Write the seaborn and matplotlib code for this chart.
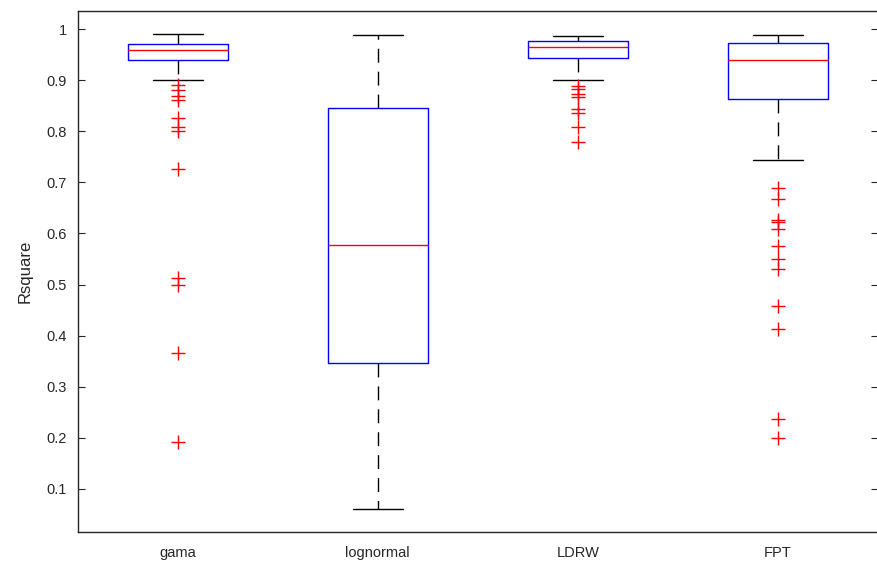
import numpy as np
import pandas as pd
import matplotlib
matplotlib.use("Agg")
import matplotlib.pyplot as plt
import seaborn as sns

# ---- data ----
categories = ["gama", "lognormal", "LDRW", "FPT"]
whisker_low = [0.901, 0.060, 0.901, 0.744]
q1 = [0.940, 0.346, 0.944, 0.863]
median = [0.960, 0.577, 0.966, 0.940]
q3 = [0.971, 0.846, 0.977, 0.974]
whisker_high = [0.991, 0.989, 0.987, 0.989]
outliers_gama = [0.890, 0.881, 0.869, 0.862, 0.827, 0.809, 0.801, 0.726,
                 0.513, 0.499, 0.365, 0.191]
outliers_lognormal = []
outliers_ldrw = [0.889, 0.883, 0.873, 0.868, 0.843, 0.836, 0.809, 0.779]
outliers_fpt = [0.689, 0.667, 0.626, 0.622, 0.608, 0.575, 0.550, 0.530,
                0.457, 0.413, 0.237, 0.200]
outliers = [outliers_gama, outliers_lognormal, outliers_ldrw, outliers_fpt]
yticks = [0.1, 0.2, 0.3, 0.4, 0.5, 0.6, 0.7, 0.8, 0.9, 1.0]
ytick_labels = ["0.1", "0.2", "0.3", "0.4", "0.5", "0.6", "0.7", "0.8", "0.9", "1"]

# Build samples whose five-number summary equals the values read above
rows = []
for i, cat in enumerate(categories):
    outs = sorted(outliers[i])
    m = len(outs)
    k = m + 1
    sample = (outs + [whisker_low[i]] + [q1[i]] * (2 * k - 1 - m)
              + [median[i]] * k + [q3[i]] * k + [whisker_high[i]])
    for v in sample:
        rows.append({"model": cat, "Rsquare": v})
df = pd.DataFrame(rows)

sns.set_theme(style="white")
plt.rcParams["font.family"] = ["Liberation Sans", "DejaVu Sans"]

fig = plt.figure(figsize=(8.77, 5.69), dpi=100)
ax = fig.add_axes([0.0886, 0.0656, 0.9125, 0.9156])

sns.boxplot(
    data=df, x="model", y="Rsquare", order=categories, ax=ax,
    width=0.5, fill=False, whis=1.5,
    boxprops=dict(color="blue", linewidth=1.0),
    medianprops=dict(color="red", linewidth=1.0),
    whiskerprops=dict(color="black", linewidth=1.0, linestyle=(0, (10, 6.5))),
    capprops=dict(color="black", linewidth=1.0),
    flierprops=dict(marker="+", markeredgecolor="red", markerfacecolor="red",
                    markersize=9.5, markeredgewidth=1.0, linestyle="none"),
    capwidths=0.25,
)

ax.set_xlim(0.5 - 1, 4.5 - 1)
ax.set_ylim(0.0158, 1.0364)
ax.set_yticks(yticks)
ax.set_yticklabels(ytick_labels)
ax.set_xlabel("")
ax.set_ylabel("Rsquare", fontsize=12, color="#262626", labelpad=10)

for s in ax.spines.values():
    s.set_visible(True)
    s.set_color("#262626")
    s.set_linewidth(1.0)

ax.tick_params(axis="y", direction="in", length=5, width=0.8, colors="#262626",
               labelsize=10.5, pad=8, left=True, right=True)
ax.tick_params(axis="x", length=0, labelsize=10.5, colors="#262626", pad=10)

fig.savefig("out.png", dpi=100)
